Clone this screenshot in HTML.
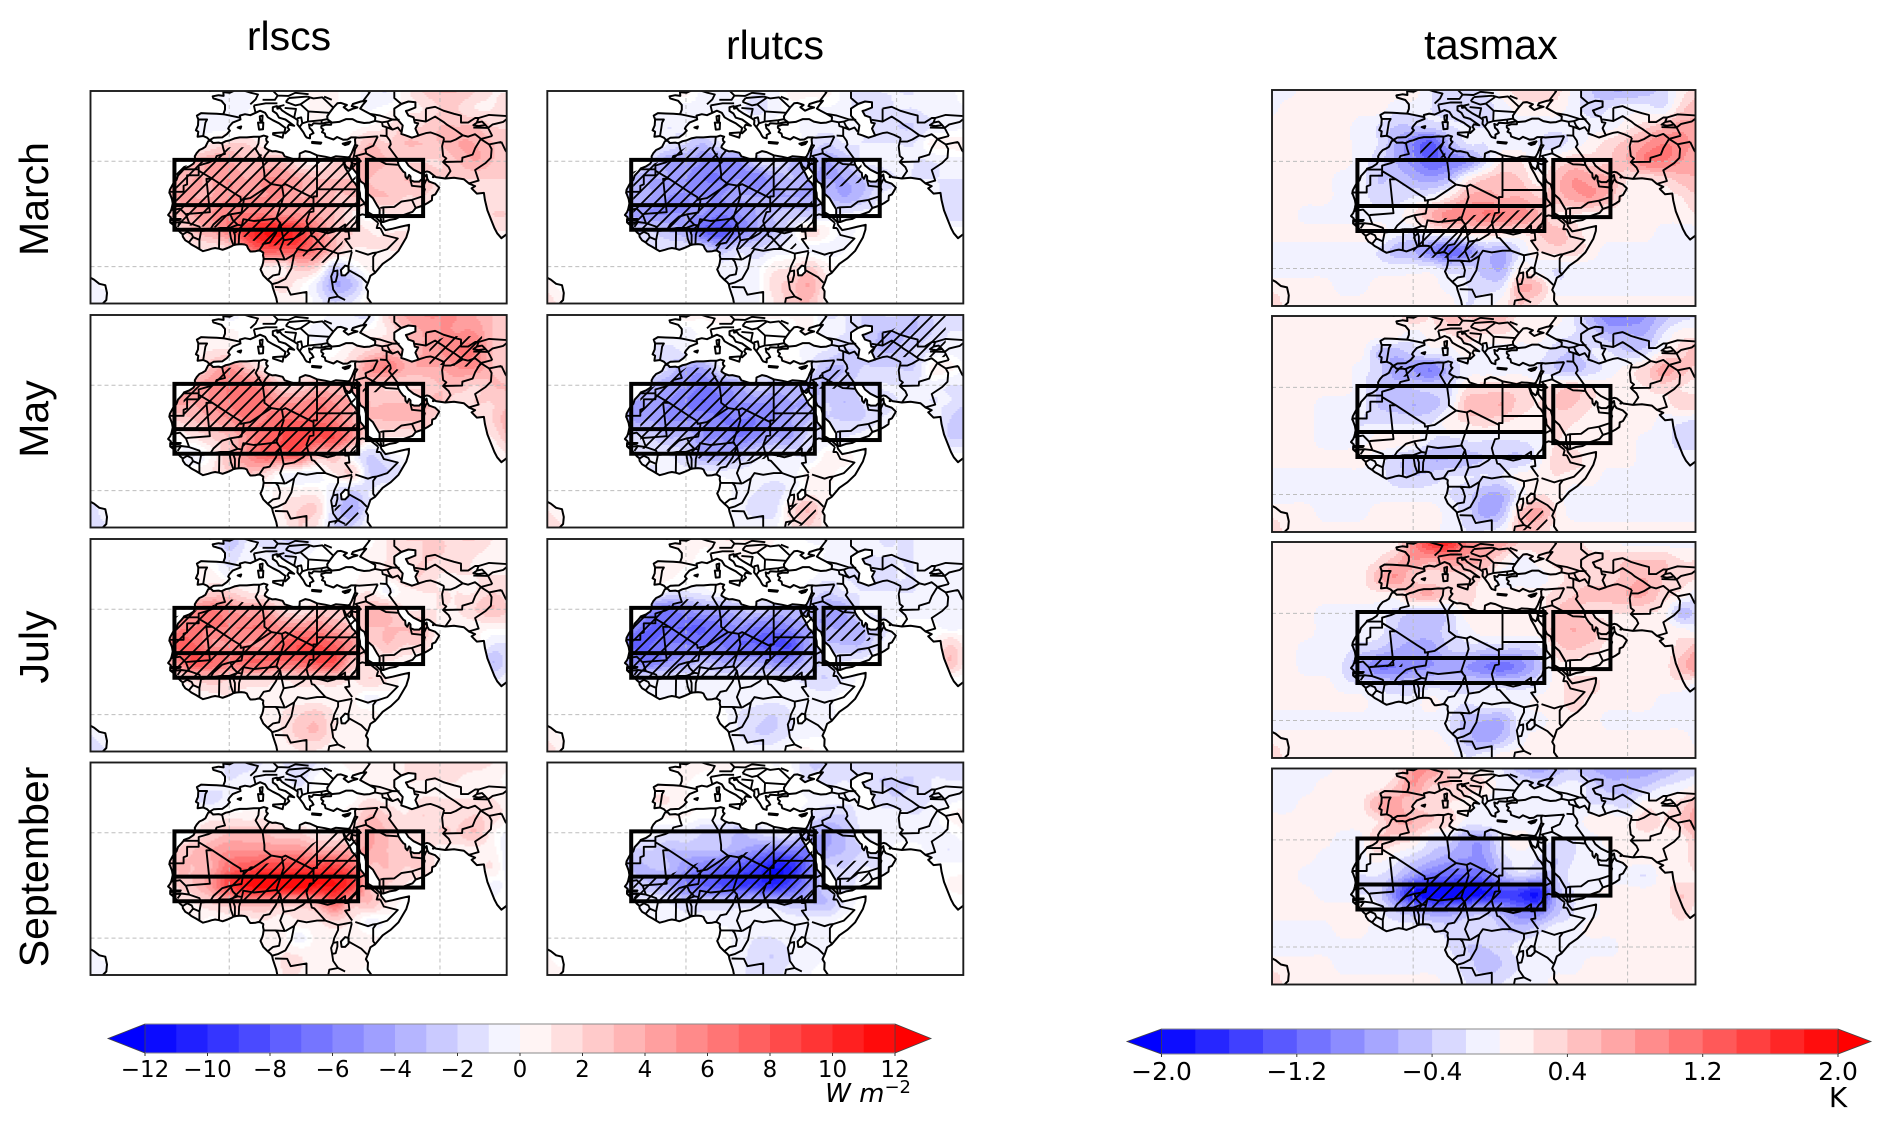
<!DOCTYPE html>
<html lang="en">
<head>
<meta charset="utf-8">
<title>rlscs, rlutcs and tasmax anomaly maps</title>
<style>
html,body{margin:0;padding:0;background:#fff;}
svg{display:block;}
text{font-family:"Liberation Sans",sans-serif;fill:#000;}
.cb text{font-family:"DejaVu Sans",sans-serif;}
</style>
</head>
<body>
<svg id="figure" xmlns="http://www.w3.org/2000/svg" width="1892" height="1125" viewBox="0 0 1892 1125">
<defs>
<filter id="soft" x="0" y="0" width="100%" height="100%"><feGaussianBlur stdDeviation="0.35"/></filter>
<pattern id="hatch" patternUnits="userSpaceOnUse" width="13" height="13"><path d="M-2,15 L15,-2 M-2,2 L2,-2 M11,15 L15,11" stroke="#000" stroke-width="1.8" fill="none"/></pattern>
</defs>
<rect width="1892" height="1125" fill="#fff"/>
<g id="stage" filter="url(#soft)"></g>
<text x="289" y="50" font-size="41" text-anchor="middle">rlscs</text>
<text x="775" y="59" font-size="41" text-anchor="middle">rlutcs</text>
<text x="1491" y="59" font-size="41.5" text-anchor="middle">tasmax</text>
<text transform="translate(48,199) rotate(-90)" font-size="41" text-anchor="middle">March</text>
<text transform="translate(48,419) rotate(-90)" font-size="41" text-anchor="middle">May</text>
<text transform="translate(48,647) rotate(-90)" font-size="41" text-anchor="middle">July</text>
<text transform="translate(48,867) rotate(-90)" font-size="41" text-anchor="middle">September</text>
<g id="cb1" class="cb"></g>
<g id="cb2" class="cb"></g>
<text x="911" y="1102" font-size="26" text-anchor="end" font-style="italic" style="font-family:'DejaVu Sans',sans-serif">W m<tspan dy="-9" font-size="18" font-style="normal">−2</tspan></text>
<text x="1838" y="1107" font-size="28" text-anchor="middle" style="font-family:'DejaVu Sans',sans-serif">K</text>
</svg>
<script>
// Grid axes of every field (degrees)
const lonNodes=[-40,-35,-30,-25,-20,-15,-10,-5,0,5,10,15,20,25,30,35,40,45,50,55,60,65,70,75,80];
const latNodes=[50,45,40,35,30,25,20,15,10,5,0,-5,-10];

const rlscsMarch=[
[0,0,0,0,0,0,0,0,-.6,-.3,0,0,0,.5,.3,0,-.6,-1,.6,2,3,3,2,1,1],
[0,0,0,0,0,0,0,-.3,-.6,-.3,0,0,0,.5,.3,0,-.3,0,.6,1,2,2,1,1,2],
[0,0,0,0,0,0,-.6,-.6,-.6,0,0,0,0,.3,0,0,.3,1,2,2,3,3,3,2,2],
[0,0,0,0,0,0,0,1,2,2,.5,0,0,0,0,1,3,2,3,3,3,4,4,3,2],
[0,0,0,0,0,2,3,4,4,3,3,3,1,.5,2,3,4,3,2,2,2,3,4,3,2],
[0,0,0,0,2,3,4,4,5,4,5,5,4,3,3,3,3,2,3,3,2,2,2,2,2],
[0,0,0,0,2,4,4,4,5,5,5,5,4,4,3,3,3,3,2,2,1,1,1,1,1],
[0,0,0,0,2,3,4,5,6,6,6,5,5,4,3,1,0,1,1,1,1,1,1,2,2],
[0,0,0,0,0,1,3,4,6,9,11,11,9,6,3,2,1,1,1,1,1,1,1,1,1],
[0,0,0,0,0,0,1,1,2,6,8,8,8,6,3,1,1,1,1,0,0,0,0,0,0],
[0,0,0,0,0,0,0,0,0,1,1,1,3,2,-2,-.5,.5,.5,0,0,0,0,0,0,0],
[-.6,0,0,0,0,0,0,0,0,0,.5,1.5,.5,-1,-4,-3,0,0,0,0,0,0,0,0,0],
[-1,-.6,0,0,0,0,0,0,0,0,0,.5,.5,-.5,-2,-1,.5,0,0,0,0,0,0,0,0]];
const rlscsMay=[
[0,0,0,0,0,0,0,0,-.5,0,.5,0,0,0,-.5,-1,-1,2,4,5,5,5,4,3,3],
[0,0,0,0,0,0,0,.5,.5,0,0,0,0,-.5,-.5,0,.5,1,3,4,5,5,5,3,3],
[0,0,0,0,0,0,.5,1,1,0,0,0,0,0,0,1,2,3,3,4,5,6,6,3,3],
[0,0,0,0,0,0,1,3,5,3,1,0,0,.5,1,2,5,6,4,4,4,5,5,3,2],
[0,0,0,0,0,3,4,5,6,6,5,2,2,3,3,3,3,2,2,2,3,3,2,3,3],
[0,0,0,0,2,4,4,5,6,7,6,5,5,6,5,4,3,3,3,3,3,1,2,2,3],
[0,0,0,0,1,2,3,4,5,6,6,7,7,7,6,4,3,3,3,3,1,1,1,2,4],
[0,0,0,0,0,0,1,2,3,5,7,8,9,8,8,5,1,1,1,1,1,1,1,1,3],
[0,0,0,0,0,0,-1,.5,3,5,7,7,7,3,3,0,-2,-1,0,0,0,0,0,0,1],
[0,0,0,0,0,0,.5,1,2,3,2,0,-.5,-.5,1,2,-2,-2,-1,0,0,0,0,0,0],
[0,0,0,0,0,0,0,0,0,0,0,.5,.5,.5,-1,-2,-1,0,0,0,0,0,0,0,0],
[-2,0,0,0,0,0,0,0,0,0,0,1,2,2,-2,-4,-1,0,0,0,0,0,0,0,0],
[-2,-1,0,0,0,0,0,0,0,0,0,.5,2,1,-2,-2,0,0,0,0,0,0,0,0,0]];
const rlscsJuly=[
[0,0,0,0,0,0,0,0,-3,-1,-1.5,-2,-2,-.5,0,0,0,1,2,2,2,2,2,1,.5],
[0,0,0,0,0,0,0,0,-1.5,-.6,-.6,-1.5,-.6,0,0,0,.5,1,1,2,2,1.5,1,.6,.6],
[0,0,0,0,0,0,.5,.5,-.6,0,0,0,0,0,0,0,.6,1,2,2,1,1,1,1,1],
[0,0,0,0,0,0,.5,2,2,1,.5,0,0,0,0,.5,1,-.5,.6,1,1,1,1,2,1],
[0,0,0,0,0,3,5,6,5,4,4,2,1,2,2,2,3,3,1,1,1,1,2,3,2],
[0,0,0,0,0,5,6,6,6,6,6,5,5,5,4,3,3,3,3,3,.5,.5,.5,.5,.5],
[0,0,0,0,0,7,7,5,5,5,5,7,8,8,7,5,2,3,2,2,0,0,.5,-1,-1],
[0,0,0,0,0,5,8,7,6,7,7,7,7,8,8,3,1,1,.5,0,0,0,0,-3,-1],
[0,0,0,0,0,1,2,3,2,2,2,1,2,2,2,1,2,1,0,0,0,0,0,-1,-.5],
[0,0,0,0,0,0,.5,.5,1,.5,.5,.5,.5,.5,.5,.5,-.5,0,0,0,0,0,0,0,0],
[0,0,0,0,0,0,0,0,0,0,.5,1,2,2.5,1,.5,.5,0,0,0,0,0,0,0,0],
[-1,0,0,0,0,0,0,0,0,0,.5,1,2.5,3,1,.5,.5,0,0,0,0,0,0,0,0],
[-2,-1,0,0,0,0,0,0,0,0,0,.5,1,1,.5,.5,.5,0,0,0,0,0,0,0,0]];
const rlscsSeptember=[
[0,0,0,0,0,0,0,0,-1.5,-1.5,-1,-1,-1.5,-1,0,.5,1,.5,1,1.5,1.5,1.5,1.5,1,.5],
[0,0,0,0,0,0,0,0,-1,-.5,-.5,-.5,-1.5,0,0,0,.6,.6,1,1,1,1,.5,.5,0],
[0,0,0,0,0,0,-1,-1.5,-.6,0,0,0,0,0,0,0,1,.5,.6,1,1,1,1,1,.5],
[0,0,0,0,0,0,.5,.5,.5,.5,.5,0,0,0,0,1,3,2,1,2,1.5,1.5,2,1.5,.5],
[0,0,0,0,0,.5,1,2,3,3,3,2,2,1,1,2,4,3,1.5,1,2,2,3,.5,-.5],
[0,0,0,0,0,2,3,4,5,5,5,5,5,4,4,4,4,3,2.5,2,.5,.5,.5,.5,-1],
[0,0,0,0,0,3,3,4,7,8,9,9,9,9,9,7,3,3,2,2,.5,0,.5,1,-1],
[0,0,0,0,0,2,3,5,9,11,12,12,12,11,11,9,3,2,1,0,0,0,0,-.5,0],
[0,0,0,0,0,1,1,2,3,4,4,3,3,4,7,3,3,1,0,0,0,0,0,0,0],
[0,0,0,0,0,0,.5,0,.5,.5,1,.5,1,1,2,1,-.5,0,0,0,0,0,0,0,0],
[0,0,0,0,0,0,0,0,0,0,.5,.5,-.5,.5,.5,.5,.5,0,0,0,0,0,0,0,0],
[-.6,0,0,0,0,0,0,0,0,0,0,1,1,.5,.5,.5,.5,0,0,0,0,0,0,0,0],
[-1,-.6,0,0,0,0,0,0,0,0,0,1,1,.5,.5,.5,0,0,0,0,0,0,0,0,0]];

const rlutcsMarch=[
[0,0,0,0,0,0,0,0,.5,-.5,-.5,0,-1,-.5,.5,.5,.5,-.5,-1.5,-1,-1,-1,-.6,-.6,.5],
[0,0,0,0,0,0,0,-.5,-.5,-.5,-.5,-.6,-1.5,-.6,0,-.3,-.3,-.5,-1.5,-1.5,-1,-1,-.6,-.6,-.3],
[0,0,0,0,0,0,-.6,-1,-.6,0,0,0,0,0,0,-.6,-.6,-.6,-1,-1.5,-2,-2,-1,-.6,-.3],
[0,0,0,0,0,0,0,-1,-2,-3,-1,0,0,0,0,-1,-2,-1,-1,-1,-1,-1,.5,.5,.5],
[0,0,0,0,0,-1,-2,-4,-4,-5,-5,-5,-2,-1,-3,-3,-4,-3,-1,-.6,-.6,-1,-1,-.6,-.5],
[0,0,0,0,-1,-3,-4,-4,-5,-6,-6,-5,-6,-4,-3,-4,-4,-4,-3,-2,-1,-1,-1,-1,-1],
[0,0,0,0,-1,-3,-4,-5,-5,-5,-5,-4,-4,-4,-4,-4,-3,-4,-3,-1,-.6,-.6,-.6,-1.5,-1.5],
[0,0,0,0,-1,-4,-5,-5,-5,-5,-6,-5,-4,-3,-2.5,-2.5,-1,-1,-.6,-.5,0,0,0,-1.5,-1.5],
[0,0,0,0,0,-2,-2,-3,-4,-7,-8,-6,-4,-3,-1,1.5,.5,-.6,0,0,0,0,0,0,0],
[0,0,0,0,0,0,-1,-1,-1,-2,-3,-1.5,-2,-1,-.6,-.6,-.6,-.3,0,0,0,0,0,0,0],
[0,0,0,0,0,0,0,0,0,0,-.6,-.6,-.5,.6,1,2,.5,0,0,0,0,0,0,0,0],
[.5,0,0,0,0,0,0,0,0,0,-.5,-.6,-.5,1.5,2.5,4,1,0,0,0,0,0,0,0,0],
[1.5,.5,0,0,0,0,0,0,0,0,0,-.6,-.5,1,2.5,3,.5,0,0,0,0,0,0,0,0]];
const rlutcsMay=[
[0,0,0,0,0,0,0,0,.5,.3,.5,.3,.3,.3,.3,.5,-1,-1,-2,-2,-2,-3,-2,-2,-2],
[0,0,0,0,0,0,0,.3,-.5,0,0,0,0,0,0,.3,-.6,-1,-2,-3,-3,-3,-2,-1,-1],
[0,0,0,0,0,0,-1,-1.5,-.6,-.3,0,0,0,0,0,-.6,-1,-2,-2,-3,-3,-2,-1,-.6,-.6],
[0,0,0,0,0,0,-.5,-2,-4,-4,-1,0,0,0,0,-1,-3,-3,-2,-2,-2,-2,.5,.5,-.5],
[0,0,0,0,0,-2,-3,-4,-5,-6,-5,-4,-2,-3,-3,-3,-3,-2.5,-1.5,-1,-1,-1,-.6,-1,-1],
[0,0,0,0,-1,-4,-4,-5,-6,-7,-6,-5,-5,-5,-4,-4,-2,-3,-2,-1.5,-1,-.6,-1,-1,-2],
[0,0,0,0,-1,-4,-4,-5,-5,-5,-6,-6,-6,-5,-4,-3,-2,-2,-2,-1,-.5,0,0,-2,-3],
[0,0,0,0,0,-1.5,-2,-3,-3,-5,-5,-6,-5,-4,-4,-1.5,-1,-1,-.5,0,0,0,0,-2,-2],
[0,0,0,0,0,-1,-1,-1,-2,-4,-4,-3,-1.5,-1,-1,-1,.5,.5,0,0,0,0,0,0,0],
[0,0,0,0,0,0,-1,-.6,-.5,-.6,-.6,-.6,-.6,-.6,-.6,.5,.5,0,0,0,0,0,0,0,0],
[0,0,0,0,0,0,0,0,0,0,0,-.5,-1,-1.5,-.6,.5,.3,0,0,0,0,0,0,0,0],
[1,0,0,0,0,0,0,0,0,0,0,-.6,-1.5,-1.5,1.5,3,.5,0,0,0,0,0,0,0,0],
[2,1,0,0,0,0,0,0,0,0,0,-.5,-.6,-.5,1,2,.5,0,0,0,0,0,0,0,0]];
const rlutcsJuly=[
[0,0,0,0,0,0,0,0,1,.5,1,1,1,.3,0,-.3,-.3,-.6,-.6,-1,-1,-1,-1,-1,-1],
[0,0,0,0,0,0,0,0,.5,0,0,.5,0,0,0,0,-.3,-.6,-1,-1,-1,-1,-.6,-.6,-.6],
[0,0,0,0,0,0,.5,.5,0,0,0,0,0,0,0,0,-.6,-1,-1.5,-1.5,-1,-1,-.6,-.6,-.3],
[0,0,0,0,0,0,0,-1,-1,-.6,0,0,0,0,0,-1,-2,-1,-1,-1,-1,-1,-.6,-.6,-.3],
[0,0,0,0,0,-3,-5,-6,-5,-4,-4,-3,-2,-3,-3,-3,-4,-4,-1,-.6,-.6,-.6,-.6,-.6,-.6],
[0,0,0,0,-1,-5,-7,-7,-7,-7,-6,-5,-6,-6,-5,-4,-4,-4,-3,-2,0,0,0,-.6,-.3],
[0,0,0,0,-1,-7,-7,-6,-6,-6,-6,-7,-7,-8,-8,-4,-3,-3,-3,-1,0,0,0,2,.5],
[0,0,0,0,0,-5,-6,-5,-4,-3,-4,-4,-4,-5,-5,-3,-1.5,-1,-.6,0,0,0,0,3,.5],
[0,0,0,0,0,-1.5,-1,-1,-1,-1,-1,-1,-1,-1,-1,-1.5,-2,-1,0,0,0,0,0,0,0],
[0,0,0,0,0,0,-.5,-.6,-.6,-.6,-.6,-.6,-.6,-.6,-.6,-.6,-.6,0,0,0,0,0,0,0,0],
[0,0,0,0,0,0,0,0,0,0,0,-1,-1.5,-2,-1,-.6,-.5,0,0,0,0,0,0,0,0],
[.6,0,0,0,0,0,0,0,0,0,0,-1,-2,-2,-1,-.5,-.3,0,0,0,0,0,0,0,0],
[1.5,.6,0,0,0,0,0,0,0,0,0,-.6,-.6,-.6,.3,.3,0,0,0,0,0,0,0,0,0]];
const rlutcsSeptember=[
[0,0,0,0,0,0,0,0,.8,.5,.5,.3,.3,-.3,-.3,-2,-2,-1.5,-1.5,-1.5,-1.5,-1.5,-1.5,-1.5,-1.5],
[0,0,0,0,0,0,0,0,.3,0,0,0,0,0,0,-1.5,-1.5,-1,-1.5,-2,-2,-2,-1,-1,-1],
[0,0,0,0,0,0,1,1,.3,0,0,0,0,0,0,-.3,-.6,-.6,-1,-1.5,-2,-1.5,-1,-.6,-.3],
[0,0,0,0,0,0,0,.5,.3,0,0,0,0,0,0,-1,-2,-2,-.6,-.6,-.6,-1,-.6,.3,.5],
[0,0,0,0,0,-.5,-.6,-1,-1,-2,-2,-3,-2,-1,-1,-3,-4,-3,-1,-.6,-.6,-.6,-.6,-.3,.3],
[0,0,0,0,0,-2,-2,-3,-3,-3,-3,-4,-5,-6,-6,-6,-4,-3,-2,-1,0,0,-.5,-1,-.5],
[0,0,0,0,0,-3,-3,-3,-5,-6,-7,-8,-9,-11,-10,-6,-2,-2,-1,-1,0,0,0,0,0],
[0,0,0,0,0,-2,-3,-4,-6,-7,-8,-9,-9,-10,-8,-5,-2,-1.5,-.6,0,0,0,0,.3,.5],
[0,0,0,0,0,-.6,-.6,-1,-2,-2,-2,-2,-2,-2,-3,-3,-3,-1,0,0,0,0,0,0,0],
[0,0,0,0,0,0,-.5,-.5,-.5,-.5,-.5,-.5,-.5,-.5,-.5,-.6,-.6,0,0,0,0,0,0,0,0],
[0,0,0,0,0,0,0,0,0,0,0,-.5,-1,-1,-.6,-.5,-.3,0,0,0,0,0,0,0,0],
[.3,0,0,0,0,0,0,0,0,0,0,-.6,-1.5,-2,-1,-.5,-.3,0,0,0,0,0,0,0,0],
[.5,.3,0,0,0,0,0,0,0,0,0,-.6,-1.5,-1.5,-.6,-.3,0,0,0,0,0,0,0,0,0]];

const tasmaxMarch=[
[-.1,-.1,.1,.1,.1,.1,.1,.1,.1,-.2,-.3,-.3,-.2,.1,.3,.4,.3,-.1,-.4,-.6,-.6,-.5,-.3,.1,.3],
[-.1,.1,.1,.1,.1,.1,.1,-.1,-.1,-.2,-.3,-.3,-.3,-.1,.1,.1,.1,-.1,-.3,-.2,-.1,-.1,-.2,.3,.6],
[.1,.1,.1,.1,.1,-.1,-.2,-.4,-.4,-.3,-.2,-.2,-.2,-.1,-.1,-.1,-.1,-.1,-.1,-.1,.1,.3,.5,.7,.6],
[.1,.1,.1,.1,.1,-.1,-.2,-.6,-1,-1.3,-.6,-.2,-.2,-.1,-.1,-.2,-.3,-.1,.1,.3,.5,.8,1,.9,.7],
[.1,.1,.1,.1,.1,-.1,-.3,-.6,-.9,-1.2,-1,-.8,-.3,.2,.2,-.1,.2,.4,.3,.4,.6,1,1,.8,.6],
[.1,.1,.1,.1,-.1,-.1,-.4,-.4,-.6,-.7,-.5,.1,.4,.5,.4,.1,.5,.8,.7,.6,.2,.2,.3,.5,.6],
[.1,.1,.1,.1,-.1,-.1,-.3,-.3,-.2,-.1,.2,.6,.7,.6,.6,.4,.5,.7,.8,.5,.1,.1,.1,.2,.4],
[.1,.1,-.1,-.1,-.1,-.1,-.1,-.1,.2,.6,.9,.9,1,1,.9,.6,.2,.2,.1,.1,.1,.1,.1,.1,.2],
[.1,.1,.1,.1,.1,.1,.1,-.1,-.2,0,.1,.2,.3,.3,.2,.4,.5,.3,.1,.1,.1,.1,-.1,-.1,-.1],
[-.1,-.1,-.1,-.1,-.1,-.1,-.2,-.5,-.6,-.9,-1.2,-.9,-.5,-.6,-.2,.2,.3,.3,.1,-.1,-.1,-.1,-.1,-.1,-.1],
[-.1,-.1,-.1,-.1,-.1,-.1,-.1,-.1,-.1,-.1,-.3,-.3,-.5,-.6,.1,-.1,-.2,-.1,-.1,-.1,-.1,-.1,-.1,-.1,-.1],
[.1,.1,.1,.1,-.1,-.1,.1,.1,.1,.1,-.1,-.2,-.3,-.2,.6,.5,-.1,-.1,-.1,-.1,-.1,-.1,-.1,-.1,-.1],
[.4,.1,.1,.1,.1,.1,.1,.1,.1,.1,.1,-.2,-.1,.1,.4,.2,.1,.1,.1,.1,.1,.1,.1,.1,.1]];
const tasmaxMay=[
[.1,.1,.1,.1,.1,.1,.1,.1,.4,.2,.5,.4,.5,.5,.1,.1,.1,-.2,-.6,-1,-1,-.8,-.5,-.3,-.2],
[.1,.1,.1,.1,.1,.1,.1,.1,-.1,.1,.2,.3,.2,.2,.1,.1,-.1,-.2,-.3,-.6,-.6,-.6,-.2,.1,.1],
[.1,.1,.1,.1,.1,.1,-.4,-.5,-.3,-.1,-.1,.1,-.1,-.1,-.1,-.1,-.3,-.4,-.2,-.2,-.4,-.3,.1,.3,.6],
[.1,.1,.1,.1,.1,-.1,-.3,-.7,-.8,-1,-.5,-.1,-.1,-.1,-.1,-.2,-.4,-.5,-.3,-.1,.1,.3,.7,.5,.3],
[.1,.1,.1,.1,.1,-.1,-.4,-.5,-.4,-.4,-.3,.2,.3,.3,.3,.1,.3,.4,.2,.1,.1,.2,.3,.2,.1],
[.1,.1,.1,-.1,-.1,-.1,-.4,-.5,-.6,-.5,-.2,.5,.5,.6,.3,.2,.4,.4,.2,.1,.1,.1,.1,.3,.3],
[.1,.1,.1,-.1,-.1,-.2,-.2,-.2,-.2,-.2,.1,.2,.3,.2,.1,.1,.3,.2,.1,.1,.1,.1,-.1,-.2,-.3],
[.1,.1,.1,-.1,-.1,-.1,.1,.1,.1,-.2,-.3,-.2,-.2,-.2,-.2,-.1,.2,.1,.1,.1,.1,-.1,-.1,-.3,-.3],
[.1,.1,.1,.1,.1,.1,-.1,-.3,-.5,-.6,-.6,-.5,-.4,-.4,-.4,-.1,.3,.3,.1,.1,.1,-.1,-.1,-.1,-.1],
[-.1,-.1,-.1,-.1,-.1,-.1,-.1,-.3,-.4,-.3,-.2,-.2,-.2,-.2,.1,.1,.2,.1,.1,-.1,-.1,-.1,-.1,-.1,-.1],
[-.1,-.1,-.1,-.1,-.1,-.1,-.1,-.1,-.1,-.1,-.2,-.3,-.6,-.6,-.1,.2,.1,-.1,-.1,-.1,-.1,-.1,-.1,-.1,-.1],
[.1,.1,.1,-.1,-.1,-.1,.1,.1,.1,.1,-.1,-.3,-.7,-.5,.4,.7,.2,-.1,-.1,-.1,-.1,-.1,-.1,-.1,-.1],
[.4,.1,.1,.1,.1,.1,.1,.1,.1,.1,-.1,-.2,-.2,-.1,.5,.4,.1,.1,.1,.1,.1,.1,.1,.1,.1]];
const tasmaxJuly=[
[.1,.1,.1,.1,.1,.1,.1,.1,.9,1.6,1.7,1,.8,.7,.4,.4,.3,.3,.1,.1,-.1,-.1,-.1,-.1,-.1],
[.1,.1,.1,.1,.1,.1,.2,.5,.8,.7,.8,.7,.6,.2,-.1,.1,.3,.4,.3,.3,.4,.4,.4,.2,.2],
[.1,.1,.1,.1,.1,.1,.5,.8,.4,.3,.3,.3,.2,-.1,-.1,-.1,.1,.3,.3,.3,.5,.6,.4,.3,.2],
[.1,.1,.1,.1,.1,.1,.1,.1,.5,.6,.3,.3,.1,.1,.1,.1,.3,.4,.5,.5,.6,.6,.3,.1,-.2],
[.1,.1,.1,-.1,-.1,-.1,-.1,-.3,-.4,-.5,-.3,.1,.1,.1,.1,.1,.4,.5,.2,.2,.2,.2,.1,-.5,-.3],
[.1,.1,.1,-.1,-.1,-.1,-.1,-.4,-.5,-.5,-.3,-.1,.1,.1,.1,.1,.5,.6,.5,.2,.1,.1,.1,.1,-.1],
[.1,.1,-.1,-.1,-.1,-.3,-.4,-.6,-.7,-.7,-.4,-.3,-.4,-.4,-.4,-.3,.3,.4,.3,.1,.1,.1,.1,.3,.6],
[.1,.1,-.1,-.1,-.2,-.6,-1,-1,-.9,-.8,-.7,-.8,-1,-1.1,-.9,-.5,.1,.1,.1,.1,.1,.1,.1,.5,.8],
[.1,.1,.1,.1,-.1,-.2,-.3,-.4,-.4,-.3,-.3,-.3,-.3,-.3,-.3,-.2,.1,.3,.3,.1,.1,.1,.1,.1,-.1],
[.1,.1,.1,.1,.1,.1,-.1,-.1,-.1,.1,-.1,-.2,-.1,-.1,-.1,.1,.1,.3,.1,.1,.1,.1,-.1,-.1,-.1],
[-.1,-.1,-.1,-.1,-.1,-.1,-.1,-.1,-.1,-.1,-.2,-.5,-.6,-.6,-.1,-.1,.1,.1,.1,-.1,-.1,-.1,-.1,-.1,-.1],
[.1,.1,.1,.1,.1,.1,.1,.1,.1,.1,-.1,-.5,-.7,-.5,-.1,.1,.1,.1,.1,.1,.1,.1,.1,.1,-.1],
[.4,.1,.1,.1,.1,.1,.1,.1,.1,.1,.1,-.2,-.1,.1,.1,.1,.1,.1,.1,.1,.1,.1,.1,.1,.1]];
const tasmaxSeptember=[
[-.1,-.1,-.1,-.1,.1,.1,.1,.1,.8,.8,.4,.2,.1,-.2,-.5,-.7,-.5,-.4,-.6,-.7,-.7,-.7,-.6,-.4,-.3],
[-.1,-.1,-.1,.1,.1,.1,.1,.4,.8,.4,.4,.3,.2,-.1,-.1,-.2,-.2,-.1,-.3,-.5,-.5,-.4,-.2,-.1,.1],
[-.1,-.1,.1,.1,.1,.1,.6,.7,.4,.3,.2,.1,-.1,-.1,-.1,-.1,-.1,-.1,-.2,-.2,-.3,.1,.1,.3,.6],
[.1,.1,.1,.1,.1,.1,.2,.6,.6,.4,.3,-.1,-.1,-.1,-.1,-.1,-.1,-.1,.1,.1,.1,.3,.2,.4,.8],
[.1,.1,.1,.1,-.1,-.1,.4,.3,.2,-.2,-.3,-.7,-.7,-.1,.1,-.1,-.2,-.2,-.1,.1,.1,.1,.1,.1,.5],
[.1,.1,.1,-.1,-.1,-.1,.1,-.1,-.3,-.5,-.7,-.8,-.8,-.3,-.1,-.2,-.4,-.2,-.1,-.1,.1,.1,.1,.1,.4],
[.1,.1,-.1,-.1,-.1,-.2,-.2,-.4,-.8,-1.1,-1.2,-1.2,-1.1,-.6,-.3,-.5,-.4,-.1,-.1,-.1,-.1,-.2,.1,.1,.2],
[.1,.1,.1,-.1,-.1,-.2,-.3,-1,-1.8,-2,-2,-2,-1.8,-1.5,-1.6,-1.8,-.6,-.2,-.1,.1,.1,.1,.1,.4,.2],
[.1,.1,.1,.1,.1,.1,-.1,-.4,-.6,-.8,-.8,-.6,-.5,-.7,-1,-1,-.5,-.2,-.1,.1,.1,.1,.1,.3,.1],
[-.1,-.1,-.1,-.1,.1,.1,-.1,-.1,-.1,-.2,-.3,-.3,-.3,-.4,-.5,-.3,-.1,-.1,.1,.1,.1,.1,.1,.1,.1],
[-.1,-.1,-.1,-.1,-.1,-.1,-.1,-.1,-.1,-.1,-.2,-.4,-.4,-.3,-.1,-.1,-.1,-.1,-.1,-.1,.1,.1,.1,.1,.1],
[.1,.1,.1,.1,-.1,-.1,-.1,-.1,-.1,-.1,-.1,-.3,-.5,-.4,-.2,-.1,-.1,-.1,.1,.1,.1,.1,.1,.1,.1],
[.4,.1,.1,.1,.1,.1,.1,.1,.1,.1,-.1,-.2,-.3,-.2,-.1,-.1,.1,.1,.1,.1,.1,.1,.1,.1,.1]];

// Stippled-significance regions as lon/lat rings
const hatchRlscsMarch=[[[-15,12],[-15,28],[-5,31],[0,34],[8,34],[10,30.5],[36,30.5],[36,12],[33,9],[31,3],[27,1],[22,2],[18,6],[10,6],[3,9],[-2,11]]];
const hatchRlscsMay=[[[-13,18],[-13,28],[-6,31],[0,35],[7,35],[10,30.5],[36,30.5],[36,11],[4,11],[2,17],[-13,17]],[[38,28],[38,32],[45,36],[49,34],[44,28]],[[57,36],[57,42],[62,44],[72,44],[72,35]],[[30,-10],[30,-4],[35,-4],[38,-8],[36,-10]]];
const hatchRlscsJuly=[[[-15,11],[-15,28],[-5,31],[0,33],[10,30.5],[36,30.5],[36,11]]];
const hatchRlscsSeptember=[[[-5,11],[4,20],[15,22],[30,30.5],[36,30.5],[36,11]]];
const hatchRlutcsMarch=[[[-15,11],[-15,27],[-5,31],[0,34],[8,34],[10,30.5],[36,30.5],[36,14],[30,10],[32,5],[20,5],[10,5],[3,9],[-2,11]],[[40,22],[40,30.5],[50,30.5],[50,24]]];
const hatchRlutcsMay=[[[-13,12],[-13,28],[-6,31],[0,35],[7,35],[10,30.5],[36,30.5],[36,11],[8,7],[0,11]],[[37,29],[38,33],[46,35],[48,29]],[[52,38],[52,42],[66,50],[74,50],[74,38]],[[29,-10],[29,-4],[36,-3],[38,-8],[34,-10]]];
const hatchRlutcsJuly=[[[-15,11],[-15,28],[-5,31],[0,33],[10,30.5],[36,30.5],[36,11]],[[40,21],[40,30],[47,30],[53,21]]];
const hatchRlutcsSeptember=[[[-15,11],[-15,18],[-5,18],[5,22],[20,25],[30,30.5],[36,30.5],[36,11]],[[43,16],[43,22],[52,22],[52,16]]];
const hatchTasmaxMarch=[[[2,31],[2,35.5],[9,35.5],[9,31]],[[8,11],[8,14],[36,17],[36,11]],[[0,3],[0,10],[18,10],[18,3]]];
const hatchTasmaxMay=[[[30,-10],[30,-4],[36,-4],[38,-8],[36,-10]],[[-5,33],[-5,36],[2,36],[2,33]]];
const hatchTasmaxJuly=[[[-12,15],[-12,18],[-3,18],[-3,15]]];
const hatchTasmaxSeptember=[[[-5,11],[-2,16],[10,22],[24,22],[25,11]]];

// Geography as lon/lat polylines
const landRing=[[13.8,-12],[13.8,-11],[13.4,-9],[12.4,-6],[12.2,-5],[11.8,-4.5],[11,-3.8],[9.7,-2.5],[8.9,-.8],[9.4,.2],[9.6,1],[9.8,2.3],[9.6,3.2],[9.7,4],[8.9,4.5],[8.3,4.6],[7.5,4.4],[6.5,4.3],[6,4.3],[5.4,5.1],[5,6],[4.4,6.3],[3.4,6.4],[2,6.3],[1.2,6.1],[.7,5.8],[-.5,5.3],[-1.9,4.8],[-2.9,5.1],[-4,5.3],[-5,5.1],[-6,4.8],[-7.5,4.4],[-8.5,5],[-9.5,5.6],[-10.8,6.3],[-11.5,6.9],[-12.5,7.5],[-13.2,8.5],[-13.3,9.2],[-14,9.8],[-14.7,10.6],[-15,11],[-15.5,11.5],[-16.3,12.2],[-16.8,12.6],[-16.8,13.4],[-16.6,14],[-17.4,14.7],[-16.8,15.5],[-16.5,16.2],[-16.3,17],[-16.1,18],[-16.3,19.2],[-16.9,20.8],[-17.05,21],[-16.9,21.9],[-16.3,23],[-15.8,23.9],[-15,24.7],[-14.6,25.9],[-13.6,27],[-13,27.7],[-12.9,27.95],[-11.4,28.5],[-10.2,29.3],[-9.7,30.2],[-9.8,31.4],[-9.3,32.3],[-8.5,33.2],[-7.6,33.6],[-6.8,34.1],[-6,35.7],[-5.3,35.9],[-4.6,35.2],[-3,35.3],[-2.2,35.1],[-1,35.7],[0,35.9],[1.5,36.5],[3,36.8],[5,36.8],[7,37],[8.7,36.95],[9.8,37.3],[10.9,37],[10.5,36.4],[10.6,35.8],[11,35.5],[10.2,34.4],[10.1,33.9],[11,33.3],[12.3,32.8],[13.2,32.9],[15.2,32.4],[15.8,31.4],[18,30.7],[19,30.3],[20,30.9],[20.1,32.2],[21.7,32.9],[23,32.6],[25,31.7],[27.3,31.3],[29,30.9],[30.3,31.4],[32,31.3],[33.8,31.1],[34.3,31.3],[34.9,32.4],[35.2,33.2],[35.5,33.9],[35.9,34.9],[35.8,36.2],[36.1,36.8],[34.7,36.8],[33.7,36.2],[32.5,36.1],[30.7,36.9],[29.7,36.2],[28.2,36.7],[27.4,37],[27.2,37.9],[26.4,38.3],[26.8,39],[26.2,39.5],[26.2,40],[27.5,40.4],[29,40.4],[29.1,41],[31.3,41.2],[33.3,42],[35.1,42],[36.4,41.3],[38.4,40.9],[40,41],[41.5,41.5],[41.6,42.6],[40,43.5],[38.5,44.3],[37.3,45],[38,46],[39,47.2],[37.5,47],[35.2,46.3],[34.9,45.7],[36.5,45.3],[35.3,45],[33.9,44.4],[32.6,45.4],[33.5,46],[31.8,46.6],[30.8,46.5],[29.7,45.3],[28.7,44],[27.9,42.8],[28,41.9],[29,41.2],[27.5,41],[26.3,40.7],[24,40.8],[23.5,40.2],[22.7,40.5],[22.9,39.4],[23.5,38.9],[24,38],[23,37.5],[23,36.5],[22,36.8],[21.6,37.3],[21.1,38.3],[20.2,39.5],[19.4,40.5],[19.5,41.7],[18.5,42.4],[16.5,43.5],[15,44.5],[14.5,45.2],[13.7,45],[13.6,45.7],[12.4,45.4],[12.4,44.3],[13.5,43.6],[14.2,42.4],[16,41.9],[18.5,40.1],[17,40.4],[16.6,39.7],[17.1,39],[16,37.95],[15.7,38.2],[16,39.5],[15,40.2],[14.2,40.8],[12.4,41.7],[11,42.5],[10.2,43.8],[8.8,44.4],[7.5,43.8],[6,43.1],[4.5,43.4],[3,43],[3.2,41.9],[1,41],[0,39.9],[-.3,39.3],[.2,38.7],[-.7,37.7],[-2,36.8],[-4.4,36.7],[-5.6,36],[-6.3,36.7],[-7.4,37.2],[-9,37],[-8.8,38.4],[-9.5,38.8],[-8.9,40.2],[-8.8,41.9],[-9.2,43],[-8,43.7],[-5.8,43.6],[-3.6,43.5],[-1.7,43.4],[-1.2,44.7],[-1.2,46],[-2.2,47.2],[-4.5,47.9],[-4.7,48.5],[-3,48.8],[-1.6,48.6],[-1.7,49.7],[.1,49.5],[1.5,50.1],[2,51],[2,56],[90,56],[90,22],[85,20],[82,16],[80.3,13],[80,10],[77.5,8.1],[76.3,9.5],[75.5,11],[74.5,13.5],[73.5,16],[72.8,19],[72.5,21],[70.5,20.8],[69,22.3],[70,22.9],[68.2,23.7],[66.8,24.9],[64,25.3],[61.5,25.1],[58.8,25.5],[57,26.9],[56.3,27.1],[54.5,26.6],[52.5,27.6],[51,28.8],[50.2,30.1],[48.9,30.3],[48,29.9],[48.2,29],[48.8,28],[49.6,27],[50.1,26.7],[50.2,25.6],[50.7,25],[51.2,26.1],[51.6,25.7],[51.6,24.6],[52.6,24.2],[54.1,24.2],[55.3,25.3],[56.2,26.2],[56.4,25],[56.9,24.2],[58.6,23.6],[59.8,22.5],[58.7,20.6],[57.8,20.2],[57.7,18.9],[56.5,18.1],[55.2,17.4],[53.1,16.7],[52.2,15.6],[49.1,14.5],[47.4,13.6],[45.6,13.3],[43.9,12.7],[43.3,12.7],[43.2,13.3],[42.8,14.9],[42.8,16.3],[42,17.6],[40.9,19.5],[39.2,21],[38.5,23.5],[37.4,24.3],[36.7,26],[35.1,28],[34.9,29.4],[34.5,28],[34.2,27.8],[33.2,28.6],[32.6,30],[32.5,29.8],[33,28.2],[33.9,26.7],[35,24.5],[35.7,23.9],[36.9,22],[37.2,21],[37.3,19.6],[38.6,18],[39.5,15.5],[41.2,14.5],[43.1,12.7],[43.3,11.9],[44.5,10.4],[46.5,10.8],[48.9,11.4],[51.2,11.9],[51.1,10.5],[50.4,8.3],[48.2,4.5],[46,2.4],[43.7,.8],[41.5,-1.8],[40.2,-2.6],[39.6,-4.4],[38.9,-6],[39.5,-7],[39.4,-8.9],[40.5,-10.5],[40.6,-12]];
const southAmerica=[[-45,-2],[-40,-2.9],[-38.5,-3.7],[-37,-4.9],[-35.3,-5.3],[-34.8,-7.5],[-35,-9.5],[-36.5,-11],[-40,-14],[-45,-14]];
const caspianSea=[[47,45],[49,46.3],[51,47],[53,46.8],[53,45.3],[51,44.5],[50.3,44.3],[51,43],[52.5,42.5],[52.8,41],[53.8,40.8],[53,39.3],[53.9,37.3],[52,36.7],[50.2,37.4],[49,37.8],[49.4,40.2],[48,41.8],[47,43],[47,45]];
const islands=[
[[12.5,38],[15.5,38.2],[15.2,36.7],[12.5,37.6]],
[[8.2,41],[9.7,41],[9.6,39.1],[8.5,39]],
[[8.7,42.8],[9.5,43],[9.4,41.4],[8.8,41.6]],
[[23.6,35.5],[26.2,35.3],[26,35],[23.6,35.2]],
[[32.3,35],[34.5,35.6],[34,34.9],[33,34.6]],
[[2.4,39.6],[3.4,39.9],[3.2,39.3]],
[[-5.5,50],[-3,50.7],[-1,50.8],[1.3,51.3],[1,53],[-5,53]],
[[31.8,-1],[33,.3],[34,0],[34,-1.5],[33,-2.5],[32,-2.5]],
[[58,25.5],[58.1,25.7],[58.2,25.5]]];
const borders=[
[[-13,27.7],[-8.7,27.7]],[[-8.7,27.7],[-8.7,28.8],[-6,29.6],[-4,30.5],[-3.6,31.5],[-1.2,32.1],[-1.7,33.6],[-2,35]],
[[-8.7,27.7],[-8.7,26],[-12,26],[-12,23.4],[-13,23],[-13,21.3],[-17,21.3]],
[[-8.7,27.3],[-4.8,25],[1.1,21.1],[3.2,19.8],[3.3,19],[4.2,19.2],[6,19.5],[12,23.5]],
[[12,23.5],[10,25],[10,26.5],[9.5,30.2],[7.5,33.5],[8.3,35],[8.5,36.9]],[[9.5,30.2],[10.3,31.7],[11.5,33.1]],
[[-4.8,25],[-6.5,25],[-5.5,15.5],[-12,15],[-12.3,14.8]],[[-16.5,16.1],[-14,16.5],[-12.3,14.8],[-11.4,12.4]],
[[-16.8,13.6],[-13.8,13.6],[-14,13.3],[-16.7,13.1]],[[-16.7,12.4],[-13.7,12.7],[-11.4,12.4],[-8.5,11.4],[-8,10.1],[-5.5,10.4],[-2.8,11]],
[[-13.3,9.1],[-12,9.9],[-10.7,9.3],[-10.3,8.4],[-11.5,6.9]],[[-10.3,8.4],[-8.5,7.6],[-8.5,5]],[[-14.7,11.3],[-13.7,12.7]],[[-8.5,7.6],[-8,10.1]],
[[4.2,19.2],[3.5,15.4],[.3,14.9],[-2,14.2],[-4.5,12],[-5.5,10.4]],[[.3,14.9],[1,13.3],[2.4,11.9],[3.6,11.7]],[[-2.8,11],[0,11],[2.4,11.9]],
[[-2.9,5.1],[-2.8,11]],[[1.2,6.1],[.5,8],[0,11]],[[1.6,6.2],[1.6,9],[.9,11]],[[2.7,6.3],[2.8,9],[3.6,11.7]],
[[3.6,11.7],[4,13.5],[7,13],[10,13.3],[13.5,13.7],[14,13]],
[[25,31.6],[25,20],[24,20],[24,19.5]],[[25,22],[36.9,22]],[[24,19.5],[16,23.5],[15,23],[12,23.5]],[[15,23],[15.5,20],[13.5,14],[14,13]],
[[24,19.5],[24,15.7],[22.9,15.5],[22,13],[22.5,11]],[[15.5,7.5],[18.5,8],[21,9.5],[22.5,11]],[[15.5,7.5],[15,10],[14.5,12.5],[14,13]],
[[8.6,4.7],[9.8,6.5],[11.5,6.8],[13.3,9.5],[14.5,12.5]],[[15.5,7.5],[14.5,5],[15.8,2]],[[9.8,2.2],[13.2,2.2],[16,2]],
[[11,-3.7],[12.5,-2.5],[14.2,-2.2],[14.5,-.5],[13.9,1.4],[13.2,2.2]],[[12.2,-5],[14,-4.5],[16,-3.5],[17.7,-.5],[18.5,3.5],[16,2]],
[[18.5,3.5],[19.5,5],[22,4.5],[25,5],[27.4,5]],[[27.4,5],[24.2,8.5],[23.5,8.7],[23,10.7],[22.5,11]],[[23,10.5],[26,10],[28,9.5],[30,10],[33,12],[33,10],[34.1,10]],
[[34,10],[34.2,8],[33,7.8],[35,5]],[[35,4.5],[31,3.7],[27.4,5]],[[31,3.7],[31,2.3],[29.9,0],[29.6,-1.4]],[[29.6,-1.4],[30.8,-1.1],[30.8,-2.4],[30.3,-4.3],[29.3,-4.5],[29.6,-6.5],[31,-8.5],[33,-9.5]],
[[29.6,-1.4],[29,-2.8],[29.3,-4.5]],[[31,-8.5],[28.5,-9],[27.9,-12]],[[13,-5.8],[16.5,-5.9],[17.5,-8],[22,-7.2],[22,-12]],
[[34.9,4.2],[33.9,.1],[34,-1]],[[34,-1],[37.6,-3],[39.2,-4.6]],[[35.9,4.6],[39.5,3.4],[41,3.9],[41.9,4]],[[41.9,4],[41,2.8],[41,-.9],[41.6,-1.7]],
[[41.9,4],[45,5],[48,8],[44,9],[43,11]],[[36.5,14.3],[37.9,14.9],[40,14.4],[42.4,12.5]],[[34,10],[35.1,11.7],[36.1,12.7],[36.5,14.3]],[[36.5,14.3],[37,17.2],[38.6,18]],
[[42.4,12.5],[42,11],[43,11]],[[40.5,-10.5],[37.5,-11.7]],[[34.2,31.3],[34.9,29.5]],
[[34.95,29.4],[36,29.2],[37.5,30],[36,31.5],[39,32.3],[38.8,33.4],[41,34.4],[42.3,37.1]],[[36.1,36.8],[37,36.7],[42.3,37.1]],
[[35.9,34.6],[36.5,34.5],[35.8,33.4]],[[35.1,33.1],[35.8,33.3],[35.5,31.5],[34.95,29.4]],[[39,32.2],[44.7,29.2],[46.5,29.1],[48,29]],
[[42.9,37.3],[44.8,37.2],[45.8,35.8],[46,34.8],[45.5,34],[47.7,31],[48.1,30.4]],[[44.8,37.2],[44.8,39.7]],[[41.5,41.5],[43.5,41.1],[43.7,40],[44.8,39.7]],
[[40,43.5],[43,43],[46.5,41.9],[48.5,41.8]],[[46.5,41.9],[45,41.3],[43.5,41.1]],[[45,41.3],[45.6,40],[46.5,39],[44.8,39.7]],[[46.5,39],[48,39.6],[48.9,38.4]],
[[43.9,12.7],[43.9,16.9],[43,16.7]],[[43.9,16.9],[47,17],[49,18.5],[52,19],[55,20],[55.7,22],[55.2,22.7],[52,23],[51.6,24.6]],[[55.2,22.7],[56,24.5],[56.4,25]],[[52,19],[53.1,16.7]],
[[54,37.4],[56,38],[57.3,38.2],[59.3,37.5],[61.2,36.6]],[[61.2,36.6],[60.6,34.3],[60.9,31.5],[61.8,30.8],[60.9,29.8],[62.5,28.3],[63,27.2],[61.6,25.2]],
[[60.9,29.8],[66.3,29.9],[66.4,31],[69.3,31.9],[70,33.7],[71.6,36.3],[74.9,37.2]],[[61.2,35.6],[63,35.6],[64.5,36.2],[66.5,37.4]],[[66.5,37.4],[68,37],[70,37.7],[71.5,36.5]],
[[66.5,37.4],[64.4,38.9],[62,40.4],[61,41.2],[58.6,42.7],[56,41.3],[56,45]],[[56,45],[58.6,45.5],[61,44.4],[64,43.5],[66,43],[66,41],[68,41],[70,42.3],[71,42.3]],[[52.9,41.8],[56,41.3]],
[[71,42.3],[74,43.2],[80,42.8]],[[70.5,41],[72,41.3],[73,40.3],[71,40],[69.5,40.3],[70.5,41],[71,42.3]],[[69.5,39.6],[73.7,39.5],[73,40.3]],[[74.9,37.2],[73.7,39.5],[75,40.5],[78,41.2],[80,42.8]],
[[68.2,23.7],[71,24.5],[70,27.5],[73,29.5],[74.5,31],[74.7,33.5],[74,34.8],[77.5,35.5]],[[77.5,35.5],[78.7,33],[79.5,32],[80,31]],[[71.6,36.3],[74,34.8]],
[[49,46.3],[47,48],[47,51]],[[-1.7,43.4],[3.1,42.4]],[[-8.8,41.9],[-6.3,41.9],[-6.8,41],[-7,39.6],[-7.4,37.2]],[[7.5,43.8],[7,45.9]],[[6,46.2],[7.5,47.6],[8.2,49],[6.2,49.5],[4.5,50],[2.5,51]],
[[7,45.9],[10.4,46.5],[13.7,46.5]],[[9.5,47.5],[13,47.5],[13.8,48.7]],[[12,50.5],[13.8,48.7],[16.9,48.6],[18.8,49.5],[22.6,49.1]],[[17,48],[22.2,48.4]],[[17,48],[16.1,46.9]],[[13.7,45.5],[15.7,46]],
[[16.1,46.9],[18.8,45.9],[20.3,46.2],[22.9,48]],[[20.3,46.2],[22.5,44.2],[28.5,43.8]],[[22.5,44.2],[22.4,41.3],[26.3,41.7],[26.3,40.9]],[[26.3,41.7],[28,42]],[[22.4,41.3],[20.8,40.8],[20,39.7]],
[[20.8,40.8],[20.5,42.5],[19.3,42.2]],[[15.8,45.2],[19,44.9],[18.5,42.5]],[[22.2,48.4],[24,47.9],[26.5,48.2],[29.5,45.4]],[[27,48.4],[29.2,47.5]],[[38,47],[40,49.6],[38,51]]];

const columnFields=[
  [rlscsMarch,rlscsMay,rlscsJuly,rlscsSeptember],
  [rlutcsMarch,rlutcsMay,rlutcsJuly,rlutcsSeptember],
  [tasmaxMarch,tasmaxMay,tasmaxJuly,tasmaxSeptember]];
const columnHatches=[
  [hatchRlscsMarch,hatchRlscsMay,hatchRlscsJuly,hatchRlscsSeptember],
  [hatchRlutcsMarch,hatchRlutcsMay,hatchRlutcsJuly,hatchRlutcsSeptember],
  [hatchTasmaxMarch,hatchTasmaxMay,hatchTasmaxJuly,hatchTasmaxSeptember]];
const columnNames=['rlscs','rlutcs','tasmax'];
const monthNames=['march','may','july','september'];
const radiationTicks=[-12,-10,-8,-6,-4,-2,0,2,4,6,8,10,12];
const temperatureTicks=[-2.0,-1.2,-0.4,0.4,1.2,2.0];
const boxSahara={west:-15.6,east:36.7,north:30.4,split:17.5,south:10.5};
const boxArabia={west:39.2,east:55.2,north:30.4,south:14.4};
const gridLons=[0,60];
const gridLats=[0,30];

const NS='http://www.w3.org/2000/svg';
function mk(tag,attrs,parent){
  const e=document.createElementNS(NS,tag);
  for(const k in attrs)e.setAttribute(k,attrs[k]);
  if(parent)parent.appendChild(e);
  return e;
}
function bwr(t){
  const v=Math.round(255*(1-Math.abs(t)));
  return t<0?`rgb(${v},${v},255)`:`rgb(255,${v},${v})`;
}
function binColor(idx,n){return bwr((idx+.5)/n);}
function catmull(a,b,c,d,t){
  return .5*(2*b+(c-a)*t+(2*a-5*b+4*c-d)*t*t+(3*b-a-3*c+d)*t*t*t);
}
function sampleField(g,lon,lat){
  const nx=lonNodes.length,ny=latNodes.length;
  const u=Math.max(0,Math.min(nx-1.001,(lon-lonNodes[0])/5));
  const v=Math.max(0,Math.min(ny-1.001,(latNodes[0]-lat)/5));
  const i=Math.floor(u),j=Math.floor(v),tx=u-i,ty=v-j;
  const col=[];
  for(let r=-1;r<=2;r++){
    const row=g[Math.max(0,Math.min(ny-1,j+r))];
    col.push(catmull(row[Math.max(0,i-1)]||0,row[i]||0,row[Math.min(nx-1,i+1)]||0,row[Math.min(nx-1,i+2)]||0,tx));
  }
  return catmull(col[0],col[1],col[2],col[3],ty);
}
const rowTopsNarrow=[91,315,539,762.5];
const rowTopsWide=[90,316,542,768.5];
const stage=document.getElementById('stage');
const defs=document.querySelector('defs');
for(let c=0;c<3;c++){
  const x0=[90.5,547.3,1272][c],x1=[506.7,963.3,1695.5][c],h=c<2?212.5:216;
  const vmax=c<2?12:2,step=c<2?1:.2,n=vmax/step;
  for(let r=0;r<4;r++){
    const y0=(c<2?rowTopsNarrow:rowTopsWide)[r];
    const lonMin=-39.5,lonMax=79,latMax=50,latMin=-10.5;
    const X=lon=>x0+(lon-lonMin)*(x1-x0)/(lonMax-lonMin);
    const Y=lat=>y0+(latMax-lat)*h/(latMax-latMin);
    const ring=(pts,close)=>'M'+pts.map(p=>X(p[0]).toFixed(1)+','+Y(p[1]).toFixed(1)).join('L')+(close?'Z':'');
    const id=columnNames[c]+'-'+monthNames[r];
    const panel=mk('g',{},stage);
    
    
    const cp=mk('clipPath',{id:'frame-'+id},defs);
    mk('rect',{x:x0,y:y0,width:x1-x0,height:h},cp);
    const landPath=ring(landRing,true)+ring(southAmerica,true)+islands.slice(0,8).map(s=>ring(s,true)).join('');
    const lp=mk('clipPath',{id:'land-'+id},defs);
    mk('path',{d:landPath+ring(caspianSea,true),'clip-rule':'evenodd'},lp);
    const inner=mk('g',{'clip-path':'url(#frame-'+id+')'},panel);
    
    
    const field=mk('g',c<2?{'clip-path':'url(#land-'+id+')'}:{},inner);
    
    
    const grid=columnFields[c][r];
    const buckets={};
    const cell=2;
    for(let yy=y0;yy<y0+h;yy+=cell){
      const lat=latMax-(yy+cell/2-y0)*(latMax-latMin)/h;
      let start=null,cur=null;
      for(let xx=x0;xx<=x1+cell;xx+=cell){
        let b=null;
        if(xx<x1+cell-.01&&xx<=x1){
          const lon=lonMin+(xx+cell/2-x0)*(lonMax-lonMin)/(x1-x0);
          const v=sampleField(grid,lon,lat);
          if(!(c<2&&Math.abs(v)<.25)){
            b=Math.floor(v/step);
            b=Math.max(-n,Math.min(n-1,b));
          }
        }
        if(b!==cur){
          if(cur!==null){
            (buckets[cur]=buckets[cur]||[]).push(`M${start.toFixed(1)} ${yy.toFixed(1)}h${(xx-start).toFixed(1)}v${cell}h${(start-xx).toFixed(1)}z`);
          }
          start=xx;cur=b;
        }
      }
    }
    Object.keys(buckets).forEach(k=>{
      const band=mk('path',{d:buckets[k].join(''),fill:binColor(+k,n),'shape-rendering':'crispEdges'},field);
      
      
    });
    gridLons.forEach(l=>{
      const gl=mk('line',{x1:X(l),x2:X(l),y1:y0,y2:y0+h,stroke:'#bdbdbd','stroke-width':1,'stroke-dasharray':'4 3'},inner);
      
      
    });
    gridLats.forEach(l=>{
      const gl=mk('line',{y1:Y(l),y2:Y(l),x1:x0,x2:x1,stroke:'#bdbdbd','stroke-width':1,'stroke-dasharray':'4 3'},inner);
      
      
    });
    const hatch=mk('path',{d:columnHatches[c][r].map(p=>ring(p,true)).join(''),fill:'url(#hatch)'},inner);
    
    
    const coast=mk('path',{d:ring(landRing,true)+ring(southAmerica,true)+ring(caspianSea,true)+islands.map(s=>ring(s,true)).join(''),fill:'none',stroke:'#000','stroke-width':2,'stroke-linejoin':'round'},inner);
    
    
    const bord=mk('path',{d:borders.map(s=>ring(s,false)).join(''),fill:'none',stroke:'#000','stroke-width':1.9,'stroke-linejoin':'round'},inner);
    
    
    const sa=boxSahara;
    const box1=mk('path',{d:`M${X(sa.west)} ${Y(sa.north)}H${X(sa.east)}V${Y(sa.south)}H${X(sa.west)}ZM${X(sa.west)} ${Y(sa.split)}H${X(sa.east)}`,fill:'none',stroke:'#000','stroke-width':4},panel);
    
    
    const ar=boxArabia;
    const box2=mk('rect',{x:X(ar.west),y:Y(ar.north),width:X(ar.east)-X(ar.west),height:Y(ar.south)-Y(ar.north),fill:'none',stroke:'#000','stroke-width':4},panel);
    
    
    const frame=mk('rect',{x:x0,y:y0,width:x1-x0,height:h,fill:'none',stroke:'#1c1c1c','stroke-width':1.9},panel);
    
    
  }
}
function drawColorbar(host,x0,x1,tipL,tipR,y0,y1,vmax,step,ticks,fmt,size,base){
  const n=Math.round(vmax/step);
  const sx=v=>x0+(v+vmax)*(x1-x0)/(2*vmax);
  const mid=(y0+y1)/2;
  for(let k=-n;k<n;k++){
    const seg=mk('rect',{x:sx(k*step),y:y0,width:sx((k+1)*step)-sx(k*step)+.4,height:y1-y0,fill:binColor(k,n)},host);
    
    
  }
  const left=mk('polygon',{points:`${x0},${y0} ${tipL},${mid} ${x0},${y1}`,fill:'#0000ff',stroke:'#444','stroke-width':.8},host);
  
  
  const right=mk('polygon',{points:`${x1},${y0} ${tipR},${mid} ${x1},${y1}`,fill:'#ff0000',stroke:'#444','stroke-width':.8},host);
  
  
  const edge=mk('path',{d:`M${x0} ${y0}H${x1}M${x0} ${y1}H${x1}`,stroke:'#8a8a8a','stroke-width':1,fill:'none'},host);
  
  
  ticks.forEach(t=>{
    const mark=mk('line',{x1:sx(t),x2:sx(t),y1:y1,y2:y1+3,stroke:'#333','stroke-width':1},host);
    
    
    const label=mk('text',{x:sx(t),y:base,'font-size':size,'text-anchor':'middle'},host);
    label.textContent=fmt(t);
    
    
  });
}
drawColorbar(document.getElementById('cb1'),145,895,108,931,1024,1053,12,1,radiationTicks,t=>String(t).replace('-','−'),23,1077);
drawColorbar(document.getElementById('cb2'),1161.5,1838,1127,1871,1029,1054,2,.2,temperatureTicks,t=>t.toFixed(1).replace('-','−'),25,1080);
</script>
</body>
</html>
